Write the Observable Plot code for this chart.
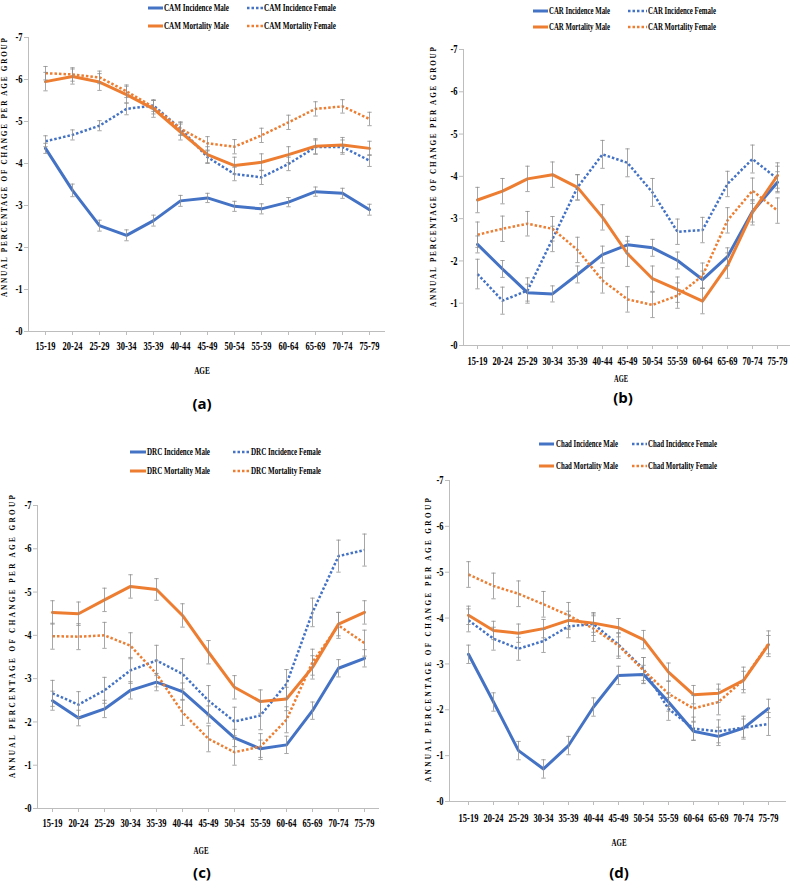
<!DOCTYPE html>
<html><head><meta charset="utf-8">
<script src="https://cdn.jsdelivr.net/npm/d3@7"></script>
<script src="https://cdn.jsdelivr.net/npm/@observablehq/plot@0.6"></script>
<style>
body{margin:0;background:#fff;}
#root{position:relative;width:792px;height:882px;background:#fff;overflow:hidden;}
#overlay{position:absolute;left:0;top:0;}
</style></head><body><div id="root"></div>
<script>
// ---------- data ----------
const ages = ["15-19","20-24","25-29","30-34","35-39","40-44","45-49","50-54","55-59","60-64","65-69","70-74","75-79"];
const yTicks = [-7,-6,-5,-4,-3,-2,-1,0];
const countries = ["CAM","CAR","DRC","Chad"];
const seriesNames = ["Incidence Male","Incidence Female","Mortality Male","Mortality Female"];
const panelLetters = ["(a)","(b)","(c)","(d)"];
const yTitle = "ANNUAL PERCENTAGE OF CHANGE PER AGE GROUP";
const xTitle = "AGE";

const camIncMale    = [-4.36,-3.36,-2.52,-2.29,-2.64,-3.11,-3.18,-2.98,-2.92,-3.08,-3.33,-3.29,-2.90];
const camIncFemale  = [-4.53,-4.68,-4.90,-5.30,-5.38,-4.83,-4.15,-3.75,-3.67,-3.99,-4.39,-4.39,-4.07];
const camMortMale   = [-5.95,-6.07,-5.94,-5.64,-5.30,-4.75,-4.21,-3.95,-4.03,-4.21,-4.41,-4.44,-4.36];
const camMortFemale = [-6.15,-6.12,-6.05,-5.72,-5.34,-4.83,-4.48,-4.40,-4.67,-4.98,-5.30,-5.36,-5.06];

const carIncMale    = [-2.39,-1.81,-1.25,-1.22,-1.68,-2.15,-2.38,-2.31,-2.01,-1.56,-2.10,-3.17,-3.86];
const carIncFemale  = [-1.69,-1.06,-1.30,-2.52,-3.74,-4.52,-4.32,-3.62,-2.69,-2.73,-3.82,-4.41,-3.94];
const carMortMale   = [-3.44,-3.65,-3.94,-4.04,-3.74,-3.03,-2.17,-1.58,-1.32,-1.05,-1.89,-3.15,-4.02];
const carMortFemale = [-2.62,-2.76,-2.88,-2.76,-2.26,-1.54,-1.09,-0.96,-1.18,-1.65,-2.96,-3.66,-3.19];

const drcIncMale    = [-2.49,-2.09,-2.30,-2.73,-2.92,-2.70,-2.17,-1.63,-1.38,-1.47,-2.26,-3.24,-3.47];
const drcIncFemale  = [-2.66,-2.40,-2.73,-3.19,-3.42,-3.11,-2.49,-2.01,-2.15,-2.88,-4.53,-5.83,-5.97];
const drcMortMale   = [-4.53,-4.50,-4.82,-5.13,-5.06,-4.46,-3.61,-2.80,-2.47,-2.53,-3.26,-4.26,-4.53];
const drcMortFemale = [-3.98,-3.97,-4.00,-3.76,-3.11,-2.22,-1.61,-1.30,-1.43,-2.05,-3.38,-4.23,-3.82];

const chadIncMale    = [-3.21,-2.17,-1.11,-0.71,-1.22,-2.06,-2.75,-2.77,-2.17,-1.53,-1.42,-1.60,-2.03];
const chadIncFemale  = [-3.95,-3.55,-3.33,-3.50,-3.82,-3.87,-3.42,-2.89,-2.02,-1.59,-1.53,-1.61,-1.69];
const chadMortMale   = [-4.06,-3.73,-3.67,-3.77,-3.95,-3.89,-3.79,-3.53,-2.82,-2.33,-2.36,-2.64,-3.42];
const chadMortFemale = [-4.95,-4.70,-4.53,-4.30,-4.06,-3.77,-3.40,-2.86,-2.35,-2.03,-2.17,-2.65,-3.44];

// error bar half-widths
const camIncMaleErr    = [0.12,0.15,0.13,0.13,0.13,0.13,0.11,0.12,0.12,0.11,0.11,0.12,0.13];
const camIncFemaleErr  = [0.13,0.12,0.12,0.14,0.14,0.15,0.15,0.16,0.17,0.16,0.17,0.17,0.14];
const camMortMaleErr   = [0.22,0.18,0.20,0.20,0.20,0.19,0.19,0.20,0.20,0.19,0.18,0.18,0.17];
const camMortFemaleErr = [0.16,0.16,0.15,0.15,0.16,0.16,0.16,0.17,0.17,0.17,0.17,0.16,0.16];

const carIncMaleErr    = [0.20,0.20,0.20,0.19,0.20,0.20,0.20,0.20,0.20,0.20,0.21,0.25,0.25];
const carIncFemaleErr  = [0.35,0.32,0.30,0.30,0.30,0.33,0.33,0.33,0.30,0.30,0.30,0.33,0.30];
const carMortMaleErr   = [0.30,0.30,0.30,0.30,0.30,0.30,0.30,0.30,0.30,0.30,0.30,0.30,0.30];
const carMortFemaleErr = [0.30,0.30,0.29,0.29,0.30,0.30,0.30,0.30,0.30,0.30,0.30,0.30,0.30];

const drcIncMaleErr    = [0.22,0.18,0.20,0.20,0.20,0.20,0.20,0.20,0.20,0.20,0.20,0.20,0.20];
const drcIncFemaleErr  = [0.30,0.30,0.30,0.30,0.35,0.35,0.35,0.33,0.33,0.33,0.33,0.37,0.37];
const drcMortMaleErr   = [0.27,0.27,0.27,0.27,0.25,0.27,0.27,0.27,0.27,0.27,0.27,0.27,0.27];
const drcMortFemaleErr = [0.30,0.30,0.30,0.30,0.30,0.30,0.30,0.30,0.30,0.30,0.30,0.30,0.30];

const chadIncMaleErr    = [0.20,0.20,0.20,0.20,0.20,0.20,0.20,0.20,0.20,0.20,0.20,0.20,0.20];
const chadIncFemaleErr  = [0.25,0.25,0.25,0.25,0.25,0.25,0.25,0.25,0.25,0.25,0.25,0.25,0.25];
const chadMortMaleErr   = [0.20,0.20,0.20,0.20,0.20,0.20,0.20,0.20,0.20,0.20,0.20,0.20,0.20];
const chadMortFemaleErr = [0.28,0.28,0.28,0.28,0.28,0.28,0.28,0.28,0.28,0.28,0.28,0.28,0.28];

const panelValues = [
  [camIncMale, camIncFemale, camMortMale, camMortFemale],
  [carIncMale, carIncFemale, carMortMale, carMortFemale],
  [drcIncMale, drcIncFemale, drcMortMale, drcMortFemale],
  [chadIncMale, chadIncFemale, chadMortMale, chadMortFemale]
];
const panelErrors = [
  [camIncMaleErr, camIncFemaleErr, camMortMaleErr, camMortFemaleErr],
  [carIncMaleErr, carIncFemaleErr, carMortMaleErr, carMortFemaleErr],
  [drcIncMaleErr, drcIncFemaleErr, drcMortMaleErr, drcMortFemaleErr],
  [chadIncMaleErr, chadIncFemaleErr, chadMortMaleErr, chadMortFemaleErr]
];

// ---------- styles & layout ----------
const colors = ["#4472C4","#4472C4","#ED7D31","#ED7D31"];
const dotted = [false,true,false,true];
const axisGrey = "#bdbdbd";
const errGrey = "#8f8f8f";
const serif = "'Liberation Serif','Times New Roman',serif";
const capSymbol = {draw(ctx, size) { const r = Math.sqrt(size / Math.PI); ctx.moveTo(-r, 0); ctx.lineTo(r, 0); }};

const layout = [
  {left:0,   top:30,  width:392, height:326, ml:28, mr:7,  mt:7,  mb:25, xpad:6,
   rows:[8,26],   s1:[148,163], t1:[164,65], s2:[247,263], t2:[264,72],
   yt:[6.7,297,38],  age:[202,373.5,15.7], letter:[202,409]},
  {left:430, top:40,  width:362, height:330, ml:33, mr:2,  mt:9,  mb:25, xpad:7,
   rows:[11,27],  s1:[533,548], t1:[549,61], s2:[628,647], t2:[648,68],
   yt:[435.5,307,47], age:[621,381.5,14], letter:[623,403]},
  {left:0,   top:485, width:392, height:348, ml:37, mr:13, mt:20, mb:25, xpad:6,
   rows:[452,471],s1:[130,146], t1:[147,63], s2:[233,250], t2:[251,70],
   yt:[15,778,495],  age:[201,853.5,15], letter:[202,878]},
  {left:416, top:472, width:372, height:354, ml:33, mr:2,  mt:8,  mb:25, xpad:8,
   rows:[444,466],s1:[539,554], t1:[556,62], s2:[632,647], t2:[648,69],
   yt:[430.5,782,498], age:[619,845.5,15], letter:[619,878]}
];

const root = document.getElementById("root");

function makePanel(p) {
  const L = layout[p];
  const series = panelValues[p].map((vals, s) =>
    ages.map((age, i) => ({age, value: vals[i], err: panelErrors[p][s][i]})));
  const marks = [
    Plot.frame({anchor: "left", stroke: axisGrey}),
    Plot.ruleY([0], {stroke: axisGrey}),
    Plot.axisX({tickSize: 4, tickPadding: L.xpad, stroke: axisGrey, fill: "#000", label: null}),
    Plot.axisY({ticks: yTicks, tickFormat: d => "-" + Math.abs(d), tickSize: 4, tickPadding: 2,
                stroke: axisGrey, fill: "#000", label: null})
  ];
  series.forEach((data, s) => {
    const o = {x: "age", y: "value", stroke: colors[s], strokeWidth: dotted[s] ? 2.5 : 3};
    if (dotted[s]) { o.strokeDasharray = "2.5,2"; o.strokeLinecap = "butt"; }
    marks.push(Plot.lineY(data, o));
  });
  series.forEach(data => {
    marks.push(Plot.ruleX(data, {x: "age", y1: d => d.value - d.err, y2: d => d.value + d.err, stroke: errGrey, strokeWidth: 0.8}));
    marks.push(Plot.dot(data, {x: "age", y: d => d.value - d.err, symbol: capSymbol, r: 2.2, fill: "none", stroke: errGrey, strokeWidth: 0.8}));
    marks.push(Plot.dot(data, {x: "age", y: d => d.value + d.err, symbol: capSymbol, r: 2.2, fill: "none", stroke: errGrey, strokeWidth: 0.8}));
  });
  const svg = Plot.plot({
    width: L.width, height: L.height,
    marginLeft: L.ml, marginRight: L.mr, marginTop: L.mt, marginBottom: L.mb,
    style: {background: "transparent", fontFamily: serif, fontSize: "11.5px", fontWeight: "bold", overflow: "visible"},
    x: {type: "point", domain: ages, label: null},
    y: {domain: [0, -7], label: null},
    marks
  });
  svg.style.position = "absolute";
  svg.style.left = L.left + "px";
  svg.style.top = L.top + "px";
  root.appendChild(svg);
  svg.querySelectorAll("text").forEach(t => {
    const tr = t.getAttribute("transform");
    if (tr) t.setAttribute("transform", tr + " scale(0.74,1)");
  });
}
for (let p = 0; p < 4; p++) makePanel(p);

// ---------- overlay: legends, titles ----------
const NS = "http://www.w3.org/2000/svg";
function el(tag, attrs, parent, text) {
  const e = document.createElementNS(NS, tag);
  for (const k in attrs) e.setAttribute(k, attrs[k]);
  if (text != null) e.textContent = text;
  parent.appendChild(e);
  return e;
}
const ov = el("svg", {id: "overlay", width: 792, height: 882, viewBox: "0 0 792 882"}, root);

layout.forEach((L, p) => {
  seriesNames.forEach((name, s) => {
    const row = L.rows[Math.floor(s / 2)];
    const col = s % 2;
    const sx = col ? L.s2 : L.s1;
    const tx = col ? L.t2 : L.t1;
    const la = {x1: sx[0], x2: sx[1], y1: row, y2: row, stroke: colors[s], "stroke-width": dotted[s] ? 2.5 : 3};
    if (dotted[s]) la["stroke-dasharray"] = "2.5,2";
    el("line", la, ov);
    el("text", {x: tx[0], y: row + 3.4, "font-family": serif, "font-weight": "bold", "font-size": 10,
                textLength: tx[1], lengthAdjust: "spacingAndGlyphs", fill: "#000"}, ov, countries[p] + " " + name);
  });
  const [yx, yb, ytop] = L.yt;
  el("text", {transform: `translate(${yx},${yb}) rotate(-90)`, "font-family": serif, "font-weight": "bold",
              "font-size": 7.2, textLength: yb - ytop, lengthAdjust: "spacing", fill: "#000"}, ov, yTitle);
  el("text", {x: L.age[0] - L.age[2] / 2, y: L.age[1], "font-family": serif, "font-weight": "bold", "font-size": 11,
              textLength: L.age[2], lengthAdjust: "spacingAndGlyphs", fill: "#000"}, ov, xTitle);
  el("text", {x: L.letter[0], y: L.letter[1], "text-anchor": "middle", "font-family": "'Open Sans',sans-serif",
              "font-weight": "bold", "font-size": 15, fill: "#000"}, ov, panelLetters[p]);
});
</script></body></html>
